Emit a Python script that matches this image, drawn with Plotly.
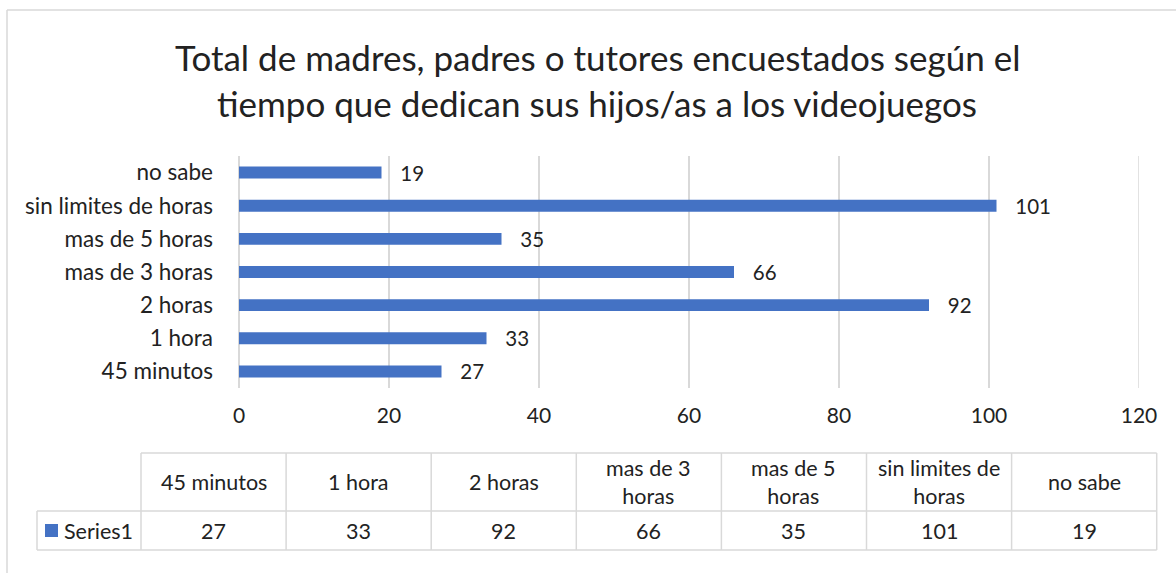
import plotly.graph_objects as go

# data
categories = ["45 minutos", "1 hora", "2 horas", "mas de 3 horas", "mas de 5 horas",
              "sin limites de horas", "no sabe"]
values = [27, 33, 92, 66, 35, 101, 19]
table_headers = ["45 minutos", "1 hora", "2 horas", "mas de 3<br>horas", "mas de 5<br>horas",
                 "sin limites de<br>horas", "no sabe"]
series_name = "Series1"
x_ticks = [0, 20, 40, 60, 80, 100, 120]
title_lines = ["Total de madres, padres o tutores encuestados según el",
               "tiempo que dedican sus hijos/as a los videojuegos"]

W, H = 1176, 573
BLUE = "#4472C4"
GRID = "#d9d9d9"
TXT = "#222222"
FONT = "Lato"


def px(x):
    return x / W


def py(y):
    return 1 - y / H


fig = go.Figure()
fig.add_trace(go.Bar(
    y=categories, x=values, orientation="h",
    marker=dict(color=BLUE, line=dict(width=0)),
    width=0.36,
    text=values, texttemplate="   %{x}", textposition="outside",
    constraintext="none",
    textfont=dict(family=FONT, size=20.5, color=TXT),
    cliponaxis=False, showlegend=False, hoverinfo="skip",
))

shapes = []
annotations = []

# chart frame (only left and top edges are visible in the crop)
shapes.append(dict(type="line", xref="paper", yref="paper",
                   x0=px(7), x1=px(7), y0=py(10), y1=0, line=dict(color=GRID, width=1.5)))
shapes.append(dict(type="line", xref="paper", yref="paper",
                   x0=px(7), x1=1, y0=py(10), y1=py(10), line=dict(color=GRID, width=1.5)))

# last gridline sits on the plot edge, draw it explicitly
shapes.append(dict(type="line", xref="x", yref="paper",
                   x0=x_ticks[-1], x1=x_ticks[-1], y0=py(388), y1=py(156),
                   line=dict(color=GRID, width=1.5)))

# title
for ty, t in zip([57, 103], title_lines):
    annotations.append(dict(xref="paper", yref="paper", x=px(597), y=py(ty), text=t,
                            showarrow=False, xanchor="center", yanchor="middle",
                            font=dict(family=FONT, size=35, color=TXT)))

# data table
col_left, col_w = 141, 145.1
top, mid, bot = 453, 511, 550
ncol = len(categories)
right = col_left + col_w * ncol
line = dict(color=GRID, width=1.5)
shapes.append(dict(type="line", xref="paper", yref="paper",
                   x0=px(col_left), x1=px(right), y0=py(top), y1=py(top), line=line))
shapes.append(dict(type="line", xref="paper", yref="paper",
                   x0=px(37), x1=px(right), y0=py(mid), y1=py(mid), line=line))
shapes.append(dict(type="line", xref="paper", yref="paper",
                   x0=px(37), x1=px(right), y0=py(bot), y1=py(bot), line=line))
shapes.append(dict(type="line", xref="paper", yref="paper",
                   x0=px(37), x1=px(37), y0=py(mid), y1=py(bot), line=line))
for i in range(ncol + 1):
    xx = col_left + col_w * i
    shapes.append(dict(type="line", xref="paper", yref="paper",
                       x0=px(xx), x1=px(xx), y0=py(top), y1=py(bot), line=line))
for i, (h, v) in enumerate(zip(table_headers, values)):
    cx = col_left + col_w * (i + 0.5)
    annotations.append(dict(xref="paper", yref="paper", x=px(cx), y=py((top + mid) / 2),
                            text=h, showarrow=False, xanchor="center", yanchor="middle",
                            font=dict(family=FONT, size=21.5, color=TXT)))
    annotations.append(dict(xref="paper", yref="paper", x=px(cx), y=py((mid + bot) / 2),
                            text=str(v), showarrow=False, xanchor="center", yanchor="middle",
                            font=dict(family=FONT, size=21.5, color=TXT)))

# legend key in table
shapes.append(dict(type="rect", xref="paper", yref="paper",
                   x0=px(45), x1=px(58), y0=py(537), y1=py(524),
                   fillcolor=BLUE, line=dict(width=0)))
annotations.append(dict(xref="paper", yref="paper", x=px(62), y=py(531),
                        text=series_name, showarrow=False, xanchor="left", yanchor="middle",
                        font=dict(family=FONT, size=21.5, color=TXT)))

fig.update_layout(
    width=W, height=H, autosize=False,
    margin=dict(l=0, r=0, t=0, b=0, pad=0),
    paper_bgcolor="white", plot_bgcolor="white",
    xaxis=dict(domain=[px(239), px(1139)], range=[0, 120], tickvals=x_ticks,
               showgrid=True, gridcolor=GRID, gridwidth=1.5,
               zeroline=True, zerolinecolor=GRID, zerolinewidth=1.5,
               showline=False, ticks="", ticklabelstandoff=13, automargin=False,
               tickfont=dict(family=FONT, size=21, color=TXT), fixedrange=True),
    yaxis=dict(domain=[py(388), py(156)], showgrid=False, zeroline=False,
               showline=False, ticks="", ticklabelstandoff=25, automargin=False,
               categoryorder="array", categoryarray=categories,
               tickfont=dict(family=FONT, size=22.5, color=TXT), fixedrange=True),
    bargap=0.64,
    shapes=shapes,
    annotations=annotations,
)

fig.write_html("out.html", config={"staticPlot": True, "responsive": False},
               post_script="document.body.style.margin='0';"
                           "document.body.style.overflow='hidden';"
                           "document.documentElement.style.overflow='hidden';")
